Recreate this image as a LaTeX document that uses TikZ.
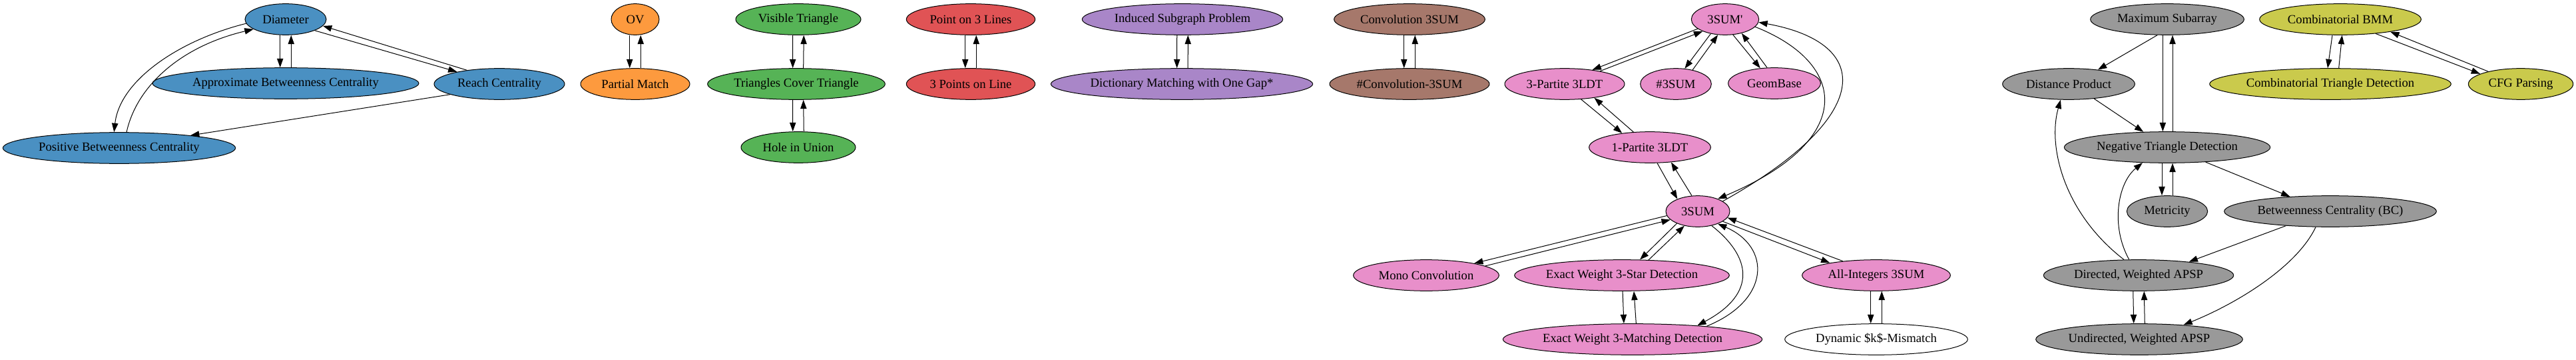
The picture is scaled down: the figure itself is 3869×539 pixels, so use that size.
\documentclass[tikz,border=0pt]{standalone}
\usepackage{fontspec}
\setmainfont{Liberation Serif}
\usepackage{tikz}
\usetikzlibrary{shapes.geometric}
\usetikzlibrary{arrows.meta}

\definecolor{blueN}{HTML}{4A90C2}
\definecolor{orangeN}{HTML}{FD9A3E}
\definecolor{greenN}{HTML}{56B356}
\definecolor{redN}{HTML}{E05355}
\definecolor{purpleN}{HTML}{A986C8}
\definecolor{brownN}{HTML}{A6786B}
\definecolor{pinkN}{HTML}{E88FCA}
\definecolor{greyN}{HTML}{999999}
\definecolor{oliveN}{HTML}{CACA4C}

\tikzset{
    prob/.style={shape=ellipse, draw=black, inner sep=0pt, minimum height=35pt,
        font=\fontsize{14}{16}\selectfont},
    >={Triangle[length=10pt, width=7pt]}}

\begin{document}
\begin{tikzpicture}[x=0.75pt, y=-0.75pt, line width=0.75pt]
    \useasboundingbox (0,0) rectangle (3869,539);

        % blue group
        \node[prob, fill=blueN, minimum width=91.5pt] (diam) at (429,29) {Diameter};
        \node[prob, fill=blueN, minimum width=300pt] (abc) at (429,125) {Approximate Betweenness Centrality};
        \node[prob, fill=blueN, minimum width=147pt] (reach) at (750,126) {Reach Centrality};
        \node[prob, fill=blueN, minimum width=262pt] (pbc) at (179,222) {Positive Betweenness Centrality};

        \draw[->] ([xshift=-6.2pt]diam.south) -- ([xshift=-6.2pt]abc.north);
        \draw[->] ([xshift=6.2pt]abc.north) -- ([xshift=6.2pt]diam.south);
        \draw[->] (diam.186) .. controls (270,60) and (180,120) .. (pbc.108);
        \draw[->] (pbc.65) .. controls (205,130) and (270,70) .. (diam.197);
        \draw[->] (diam.-21) -- (reach.164);
        \draw[->] (reach.157) -- (diam.-10);
        \draw[->] (reach.192) -- (pbc.10);

        % orange group
        \node[prob, fill=orangeN, minimum width=54pt] (ov) at (954,29) {OV};
        \node[prob, fill=orangeN, minimum width=123pt] (pm) at (954,126) {Partial Match};

        \draw[->] ([xshift=-6.2pt]ov.south) -- ([xshift=-6.2pt]pm.north);
        \draw[->] ([xshift=6.2pt]pm.north) -- ([xshift=6.2pt]ov.south);

        % green group
        \node[prob, fill=greenN, minimum width=141pt] (vt) at (1199,29) {Visible Triangle};
        \node[prob, fill=greenN, minimum width=200pt] (tct) at (1196,126) {Triangles Cover Triangle};
        \node[prob, fill=greenN, minimum width=129pt] (hiu) at (1199,221) {Hole in Union};

        \draw[->] ([xshift=-6.2pt]vt.south) -- ([xshift=-4pt]tct.north);
        \draw[->] ([xshift=8pt]tct.north) -- ([xshift=6.2pt]vt.south);
        \draw[->] ([xshift=-4pt]tct.south) -- ([xshift=-6.2pt]hiu.north);
        \draw[->] ([xshift=6.2pt]hiu.north) -- ([xshift=8pt]tct.south);

        % red group
        \node[prob, fill=redN, minimum width=145pt] (pol) at (1458,29) {Point on 3 Lines};
        \node[prob, fill=redN, minimum width=145pt] (tpl) at (1458,126) {3 Points on Line};

        \draw[->] ([xshift=-6.2pt]pol.south) -- ([xshift=-6.2pt]tpl.north);
        \draw[->] ([xshift=6.2pt]tpl.north) -- ([xshift=6.2pt]pol.south);

        % purple group
        \node[prob, fill=purpleN, minimum width=226pt] (isp) at (1776,29) {Induced Subgraph Problem};
        \node[prob, fill=purpleN, minimum width=295pt] (dmg) at (1775,126) {Dictionary Matching with One Gap*};

        \draw[->] ([xshift=-6.2pt]isp.south) -- ([xshift=-5.5pt]dmg.north);
        \draw[->] ([xshift=6.9pt]dmg.north) -- ([xshift=6.2pt]isp.south);

        % brown group
        \node[prob, fill=brownN, minimum width=170pt] (cts) at (2117,29) {Convolution 3SUM};
        \node[prob, fill=brownN, minimum width=180pt] (ncts) at (2117,126) {\#Convolution-3SUM};

        \draw[->] ([xshift=-6.2pt]cts.south) -- ([xshift=-6.2pt]ncts.north);
        \draw[->] ([xshift=6.2pt]ncts.north) -- ([xshift=6.2pt]cts.south);

        % pink group
        \node[prob, fill=pinkN, minimum width=76pt] (tsp) at (2591,29) {3SUM\textquotesingle};
        \node[prob, fill=pinkN, minimum width=135pt] (tpl3) at (2350,126) {3-Partite 3LDT};
        \node[prob, fill=pinkN, minimum width=80pt] (nts) at (2517,126) {\#3SUM};
        \node[prob, fill=pinkN, minimum width=104pt] (geo) at (2665,125) {GeomBase};
        \node[prob, fill=pinkN, minimum width=137pt] (opl) at (2478,221) {1-Partite 3LDT};
        \node[prob, fill=pinkN, minimum width=72pt] (ts) at (2550,317) {3SUM};
        \node[prob, fill=pinkN, minimum width=164pt] (mono) at (2142,413) {Mono Convolution};
        \node[prob, fill=pinkN, minimum width=241pt] (star) at (2436,413) {Exact Weight 3-Star Detection};
        \node[prob, fill=pinkN, minimum width=292pt] (match) at (2452,509) {Exact Weight 3-Matching Detection};
        \node[prob, fill=pinkN, minimum width=167pt] (allint) at (2818,413) {All-Integers 3SUM};
        \node[prob, fill=white, minimum width=206pt] (dkm) at (2818,509) {Dynamic \$k\$-Mismatch};

        \draw[->] (tsp.199) -- (tpl3.27);
        \draw[->] (tpl3.20) -- (tsp.208);
        \draw[->] (tsp.225) -- (nts.60);
        \draw[->] (nts.40) -- (tsp.245);
        \draw[->] (tsp.297) -- (geo.133);
        \draw[->] (geo.115) -- (tsp.320);
        \draw[->] (tsp.-14) .. controls (2775,95) and (2790,210) .. (ts.32);
        \draw[->] (ts.22) .. controls (2815,175) and (2815,65) .. (tsp.-5);
        \draw[->] (tpl3.-43) -- (opl.153);
        \draw[->] (opl.137) -- (tpl3.-25);
        \draw[->] (opl.295) -- (ts.149);
        \draw[->] (ts.111) -- (opl.325);
        \draw[->] (ts.188) -- (mono.14);
        \draw[->] (mono.9) -- (ts.197);
        \draw[->] (ts.210) -- (star.41);
        \draw[->] (star.30) -- (ts.227);
        \draw[->] ([xshift=0.8pt]star.south) -- ([xshift=-9.8pt]match.north);
        \draw[->] ([xshift=4pt]match.north) -- ([xshift=13.5pt]star.south);
        \draw[->] (ts.314) .. controls (2630,385) and (2640,440) .. (match.12);
        \draw[->] (match.10) .. controls (2660,450) and (2660,370) .. (ts.328);
        \draw[->] (ts.338) -- (allint.165);
        \draw[->] (allint.157) -- (ts.348);
        \draw[->] ([xshift=-6.2pt]allint.south) -- ([xshift=-6.2pt]dkm.north);
        \draw[->] ([xshift=6.2pt]dkm.north) -- ([xshift=6.2pt]allint.south);

        % grey group
        \node[prob, fill=greyN, minimum width=173pt] (msa) at (3255,29) {Maximum Subarray};
        \node[prob, fill=greyN, minimum width=149pt] (dp) at (3107,126) {Distance Product};
        \node[prob, fill=greyN, minimum width=232pt] (ntd) at (3255,221) {Negative Triangle Detection};
        \node[prob, fill=greyN, minimum width=91pt] (met) at (3255,317) {Metricity};
        \node[prob, fill=greyN, minimum width=239pt] (bc) at (3500,317) {Betweenness Centrality (BC)};
        \node[prob, fill=greyN, minimum width=214pt] (dapsp) at (3212,413) {Directed, Weighted APSP};
        \node[prob, fill=greyN, minimum width=233pt] (uapsp) at (3213,509) {Undirected, Weighted APSP};

        \draw[->] (msa.238) -- (dp.26);
        \draw[->] ([xshift=-5pt]msa.south) -- ([xshift=-5pt]ntd.north);
        \draw[->] ([xshift=6pt]ntd.north) -- ([xshift=6pt]msa.south);
        \draw[->] (dp.330) -- (ntd.147);
        \draw[->] (dapsp.133) .. controls (3100,320) and (3075,220) .. (dp.243);
        \draw[->] (dapsp.121) .. controls (3170,340) and (3180,275) .. (ntd.212);
        \draw[->] ([xshift=-6pt]ntd.south) -- ([xshift=-6pt]met.north);
        \draw[->] ([xshift=6pt]met.north) -- ([xshift=6pt]ntd.south);
        \draw[->] (ntd.339) -- (bc.160);
        \draw[->] (bc.198) -- (dapsp.15);
        \draw[->] (bc.227) .. controls (3450,400) and (3360,455) .. (uapsp.18);
        \draw[->] ([xshift=-6.2pt]dapsp.south) -- ([xshift=-6.2pt]uapsp.north);
        \draw[->] ([xshift=6.2pt]uapsp.north) -- ([xshift=6.2pt]dapsp.south);

        % olive group
        \node[prob, fill=oliveN, minimum width=182pt] (bmm) at (3515,29) {Combinatorial BMM};
        \node[prob, fill=oliveN, minimum width=272pt] (ctd) at (3500,126) {Combinatorial Triangle Detection};
        \node[prob, fill=oliveN, minimum width=118pt] (cfg) at (3786,126) {CFG Parsing};

        \draw[->] ([xshift=-9pt]bmm.south) -- ([xshift=-3pt]ctd.north);
        \draw[->] ([xshift=9.5pt]ctd.north) -- ([xshift=2pt]bmm.south);
        \draw[->] (bmm.338) -- (cfg.166);
        \draw[->] (cfg.159) -- (bmm.346);

\end{tikzpicture}
\end{document}
